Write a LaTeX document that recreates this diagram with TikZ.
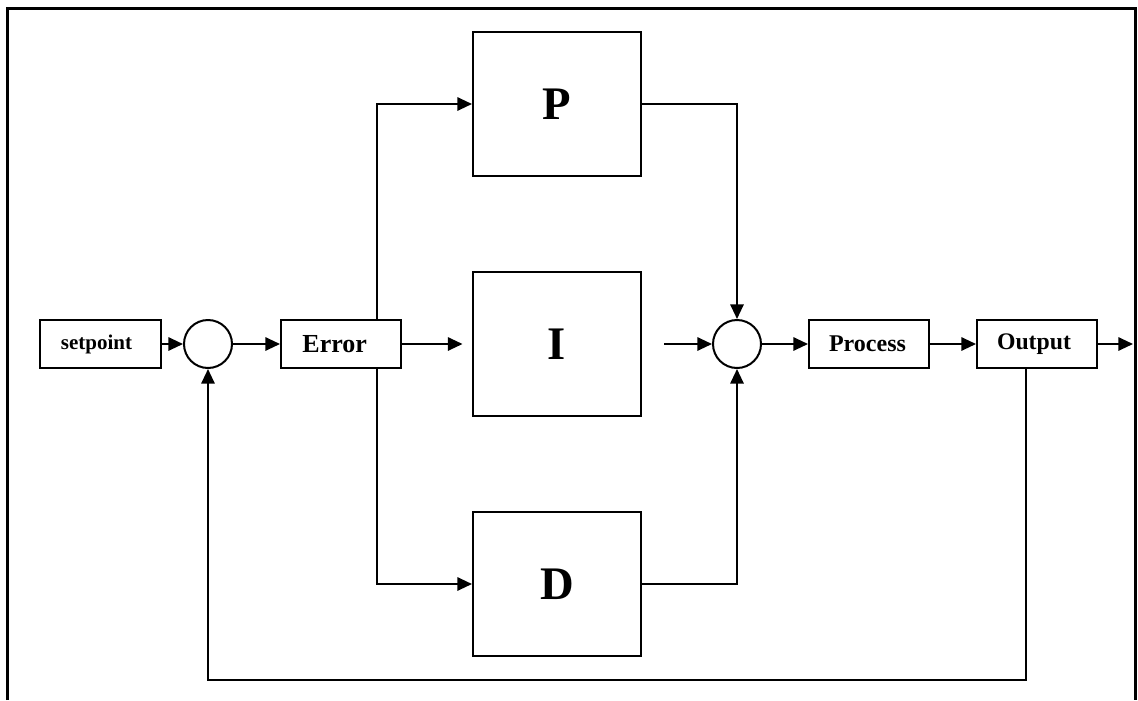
\documentclass[tikz,border=0pt]{standalone}
\usepackage{fontspec}
\setmainfont{Liberation Serif}
\usetikzlibrary{arrows.meta}
\begin{document}
\begin{tikzpicture}[x=0.75pt,y=-0.75pt,
  wire/.style={line width=1.5pt},
  arr/.style={wire,-{Triangle[length=11pt,width=10pt]}},
  smallbox/.style={draw,line width=1.5pt,minimum width=90pt,minimum height=36pt,inner sep=0pt},
  bigbox/.style={draw,line width=1.5pt,minimum width=126pt,minimum height=108pt,inner sep=0pt,
    font=\fontsize{35}{40}\selectfont\bfseries},
  sumpt/.style={draw,circle,line width=1.5pt,minimum size=36pt,inner sep=0pt}]
\useasboundingbox (0,0) rectangle (1138,700);
% outer frame
\draw[line width=2.25pt] (7,700) -- (7,8) -- (1135,8) -- (1135,700);

% blocks (labels set slightly left of centre)
\node[smallbox,minimum width=90.75pt,font=\fontsize{15.75}{18}\selectfont\bfseries] (sp) at (100.5,344) {\hspace*{-6pt}setpoint};
\node[sumpt] (s1) at (208,344) {};
\node[smallbox,font=\fontsize{19.5}{22}\selectfont\bfseries] (err) at (341,344) {\hspace*{-9.5pt}Error};
\node[bigbox] (P) at (557,104) {P};
\node[bigbox] (I) at (556.5,344) {I};
\node[bigbox] (D) at (557,584) {D};
\node[sumpt] (s2) at (737,344) {};
\node[smallbox,font=\fontsize{18}{21}\selectfont\bfseries] (proc) at (869,344) {\hspace*{-2.25pt}Process};
\node[smallbox,font=\fontsize{17.8}{21}\selectfont\bfseries] (out) at (1037,344) {\hspace*{-4.5pt}Output};

% helper points
\coordinate (br) at (377,344);
\coordinate (fb) at (1026,680);
\coordinate (end) at (1133,344);

% forward path
\draw[arr] (sp.east) -- (s1.west);
\draw[arr] (s1.east) -- (err.west);
\draw[arr] (br |- err.north) |- (P.west);
\draw[arr] (br |- err.south) |- (D.west);
\draw[arr,shorten >=6.75pt] (err.east) -- (I.west);
\draw[arr,shorten <=17pt] (I.east) -- (s2.west);
\draw[arr] (P.east) -| (s2.north);
\draw[arr] (D.east) -| (s2.south);
\draw[arr] (s2.east) -- (proc.west);
\draw[arr] (proc.east) -- (out.west);
\draw[arr] (out.east) -- (end);

% feedback path
\draw[arr] (out.south -| fb) -- (fb) -| (s1.south);
\end{tikzpicture}
\end{document}
